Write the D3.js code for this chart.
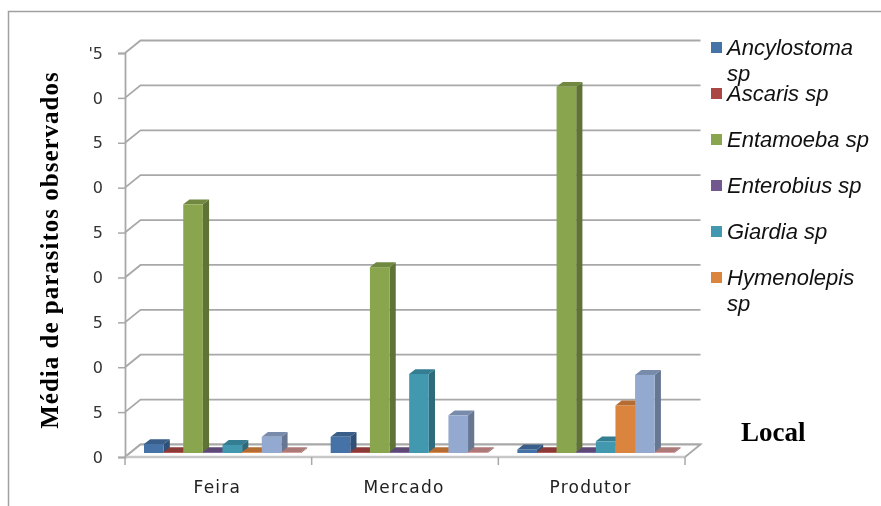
<!DOCTYPE html>
<html><head><meta charset="utf-8">
<script src="https://cdn.jsdelivr.net/npm/d3@7"></script>
<style>html,body{margin:0;padding:0;background:#fff}svg{display:block;filter:blur(0.5px)}</style>
</head><body><svg id="c" width="881" height="506"></svg>
<script>
const categories = ["Feira", "Mercado", "Produtor"];
const seriesNames = ["Ancylostoma sp", "Ascaris sp", "Entamoeba sp", "Enterobius sp", "Giardia sp", "Hymenolepis sp", "Serie 7", "Serie 8"];
const ancylostoma = [1.0, 1.8, 0.4];
const ascaris = [0.1, 0.1, 0.1];
const entamoeba = [27.7, 20.7, 40.8];
const enterobius = [0.1, 0.1, 0.1];
const giardia = [0.9, 8.8, 1.3];
const hymenolepis = [0.1, 0.1, 5.3];
const serie7 = [1.8, 4.2, 8.7];
const serie8 = [0.1, 0.1, 0.1];
const seriesValues = [ancylostoma, ascaris, entamoeba, enterobius, giardia, hymenolepis, serie7, serie8];
const colors = ["#4572A7", "#AA4643", "#89A54E", "#71588F", "#4198AF", "#DB843D", "#93A9CF", "#D19392"];
const yTicks = [0, 5, 10, 15, 20, 25, 30, 35, 40, 45];
const yTickLabels = ["0", "5", "0", "5", "0", "5", "0", "5", "0", "'5"];
const legendLines = [["Ancylostoma", "sp"], ["Ascaris sp"], ["Entamoeba sp"], ["Enterobius sp"], ["Giardia sp"], ["Hymenolepis", "sp"]];

const svg = d3.select("#c");
const L = 125, R = 685, B = 457, T = 53;   // front plane of the box
const wallDx = 15.5, wallDy = 12.5;        // depth of the box
const barInset = 4, barLift = 4, barDx = 6.2, barDy = 4.8;

const x = d3.scaleBand().domain(categories).range([L, R]);
const xs = d3.scaleBand().domain(d3.range(8)).range([15, 172]);
const y = d3.scaleLinear().domain([0, 45]).range([B, T]);
const grey = "#a8a8a8";

// frame
svg.append("path").attr("d", "M8.5,506V11.5H881").attr("fill", "none").attr("stroke", "#a0a0a0").attr("stroke-width", 1.5);

// back wall gridlines and their diagonals
const grid = svg.append("g").attr("fill", "none").attr("stroke", grey).attr("stroke-width", 1.8);
yTicks.forEach(t => {
  grid.append("path").attr("d", d3.line()([[L, y(t)], [L + wallDx, y(t) - wallDy], [R + wallDx, y(t) - wallDy]]));
});

// floor
svg.append("path").attr("d", d3.line()([[L, B], [L + wallDx, B - wallDy], [R + wallDx, B - wallDy], [R, B]]) + "Z")
  .attr("fill", "#fff").attr("stroke", "none");
svg.append("path").attr("d", d3.line()([[L, B], [L + wallDx, B - wallDy], [R + wallDx, B - wallDy], [R, B]]))
  .attr("fill", "none").attr("stroke", grey).attr("stroke-width", 1.8);
svg.append("line").attr("x1", L).attr("x2", R).attr("y1", B).attr("y2", B).attr("stroke", "#c8c8c8").attr("stroke-width", 2.4);

// axes
const yAxis = d3.axisLeft(y).tickValues(yTicks).tickSize(7).tickPadding(15)
  .tickFormat((d, i) => yTickLabels[i]);
const gy = svg.append("g").attr("transform", `translate(${L},0)`).call(yAxis);
gy.select(".domain").attr("stroke", grey).attr("stroke-width", 1.8);
gy.selectAll(".tick line").attr("stroke", grey).attr("stroke-width", 1.5);
gy.selectAll("text").attr("font-family", "DejaVu Sans").attr("font-size", 16).attr("fill", "#333");

const gx = svg.append("g").attr("transform", `translate(0,${B})`)
  .call(d3.axisBottom(x).tickSize(0).tickPadding(24));
gx.select(".domain").remove();
gx.selectAll("text").attr("font-family", "DejaVu Sans").attr("font-size", 17).attr("letter-spacing", 1.2).attr("fill", "#222").attr("dx", -1);
[L, ...categories.map(c => x(c) + x.bandwidth())].forEach(px => {
  gx.append("line").attr("x1", px).attr("x2", px).attr("y1", 0).attr("y2", 8).attr("stroke", grey).attr("stroke-width", 1.5);
});

// bars
const barData = [];
categories.forEach((c, ci) => seriesValues.forEach((vals, si) => barData.push({ c, si, v: vals[ci] })));
const zero = y(0);
svg.append("g").selectAll("g").data(barData).join("g").each(function (d) {
  const g = d3.select(this);
  const x0 = x(d.c) + xs(d.si) + barInset, x1 = x0 + xs.bandwidth();
  const yb = zero - barLift, yt = yb - (zero - y(d.v));
  const col = d3.color(colors[d.si]);
  g.append("path").attr("d", d3.line()([[x1, yb], [x1 + barDx, yb - barDy], [x1 + barDx, yt - barDy], [x1, yt]]) + "Z")
    .attr("fill", col.darker(1.0));
  g.append("path").attr("d", d3.line()([[x0, yt], [x0 + barDx, yt - barDy], [x1 + barDx, yt - barDy], [x1, yt]]) + "Z")
    .attr("fill", col.darker(0.55));
  g.append("rect").attr("x", x0).attr("y", yt).attr("width", xs.bandwidth()).attr("height", yb - yt).attr("fill", col);
});

// legend
const legendY = d3.scalePoint().domain(d3.range(6)).range([47, 277]);
const leg = svg.append("g").selectAll("g").data(legendLines).join("g")
  .attr("transform", (d, i) => `translate(711,${legendY(i)})`);
leg.append("rect").attr("x", 0).attr("y", -5).attr("width", 11).attr("height", 11).attr("fill", (d, i) => colors[i]);
leg.each(function (d) {
  d.forEach((t, k) => d3.select(this).append("text").attr("x", 16).attr("y", 8 + k * 26)
    .attr("font-family", "Liberation Sans").attr("font-style", "italic").attr("font-size", 22).attr("fill", "#111").text(t));
});

// titles
svg.append("text").attr("transform", "translate(58,250) rotate(-90)").attr("text-anchor", "middle")
  .attr("font-family", "Liberation Serif").attr("font-weight", "bold").attr("font-size", 25).attr("letter-spacing", 1).attr("fill", "#000")
  .text("Média de parasitos observados");
svg.append("text").attr("x", 741).attr("y", 441)
  .attr("font-family", "Liberation Serif").attr("font-weight", "bold").attr("font-size", 27).attr("fill", "#000").text("Local");
</script></body></html>
